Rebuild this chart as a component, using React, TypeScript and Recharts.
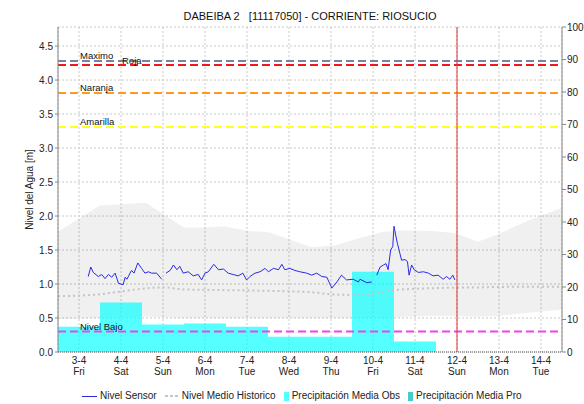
import React from 'react';
import {
   ComposedChart,
   Area,
   Line,
   XAxis,
   YAxis,
   CartesianGrid,
   ReferenceLine,
} from 'recharts';

const FONT = '"Liberation Sans", Arial, Helvetica, sans-serif';

// x axis: days of April
const tickDays = [3, 4, 5, 6, 7, 8, 9, 10, 11, 12, 13, 14];
const dayLabels = ['3-4', '4-4', '5-4', '6-4', '7-4', '8-4', '9-4', '10-4', '11-4', '12-4', '13-4', '14-4'];
const weekdayLabels = ['Fri', 'Sat', 'Sun', 'Mon', 'Tue', 'Wed', 'Thu', 'Fri', 'Sat', 'Sun', 'Mon', 'Tue'];

const levelTicks = [0, 0.5, 1, 1.5, 2, 2.5, 3, 3.5, 4, 4.5];
const rainTicks = [0, 10, 20, 30, 40, 50, 60, 70, 80, 90, 100];

// sensor level [m] (null = gap)
const sensorDays = [
   3.22, 3.28, 3.34, 3.46, 3.54, 3.62, 3.7, 3.78, 3.86, 3.94, 4.05, 4.1, 4.14, 4.25, 4.31, 4.4, 4.49,
   4.57, 4.65, 4.73, 4.85, 4.97, 5.02, 5.07, 5.17, 5.25, 5.33, 5.4, 5.48, 5.6, 5.72, 5.84, 5.92, 6.0,
   6.08, 6.21, 6.32, 6.44, 6.55, 6.67, 6.79, 6.9, 6.99, 7.07, 7.19, 7.31, 7.43, 7.51, 7.63, 7.75, 7.83,
   7.9, 8.02, 8.14, 8.26, 8.42, 8.54, 8.66, 8.78, 8.9, 9.02, 9.14, 9.25, 9.37, 9.53, 9.65, 9.69, 9.85,
   9.97, 10.02, 10.09, 10.17, 10.25, 10.31, 10.36, 10.42, 10.47, 10.5, 10.53, 10.58, 10.64, 10.68,
   10.76, 10.82, 10.86, 10.92, 10.98, 11.08, 11.2, 11.32, 11.43, 11.55, 11.67, 11.75, 11.83, 11.9, 11.95,
];
const sensorLevel = [
   1.11, 1.25, 1.17, 1.11, 1.14, 1.08, 1.14, 1.1, 1.16, 1.01, 0.99, 1.1, 1.07, 1.2, 1.16, 1.31, 1.23,
   1.16, 1.18, 1.16, 1.16, 1.07, null, 1.16, 1.2, 1.28, 1.21, 1.26, 1.16, 1.18, 1.12, 1.14, 1.06, 1.16,
   1.18, 1.29, 1.21, 1.22, 1.16, 1.14, 1.12, 1.16, 1.06, 1.11, 1.16, 1.18, 1.23, 1.18, 1.23, 1.21, 1.29,
   1.21, 1.23, 1.2, 1.18, 1.16, 1.13, 1.16, 1.11, 1.1, 0.94, 1.03, 1.13, 1.06, 1.07, 1.03, 1.07, 1.02,
   1.03, null, 1.13, 1.25, 1.28, 1.3, 1.21, 1.5, 1.55, 1.85, 1.75, 1.6, 1.45, 1.35,
   1.36, 1.33, 1.13, 1.28, 1.21, 1.17, 1.18, 1.16, 1.12, 1.13, 1.07, 1.11, 1.07, 1.13, 1.06,
];

// historic mean level [m]
const histDays = [2.5, 3.5, 4.0, 4.5, 5.0, 5.5, 6.5, 7.5, 8.5, 9.0, 9.5, 10.0, 10.5, 11.5, 12.5, 13.5, 14.5];
const histLevel = [0.82, 0.85, 0.89, 0.93, 0.95, 0.92, 0.91, 0.9, 0.88, 0.85, 0.84, 0.86, 0.91, 0.94, 0.95, 0.96, 0.96];

// historic range band [m]
const bandDays = [2.5, 3.48, 4.45, 4.6, 5.5, 6.0, 6.45, 7.05, 7.52, 8.0, 8.55, 9.1, 9.7, 10.25, 10.8, 11.4, 11.95, 12.5, 13.0, 13.75, 14.5];
const bandHigh = [1.77, 2.15, 2.19, 2.19, 1.83, 1.83, 1.85, 1.78, 1.76, 1.66, 1.54, 1.57, 1.68, 1.77, 1.79, 1.78, 1.75, 1.62, 1.74, 1.95, 2.12];
const bandLow = [0.48, 0.5, 0.52, 0.52, 0.5, 0.5, 0.5, 0.5, 0.5, 0.5, 0.5, 0.5, 0.5, 0.5, 0.52, 0.53, 0.53, 0.52, 0.53, 0.58, 0.62];

// daily precipitation (right axis)
const precipDays = [3, 4, 5, 6, 7, 8, 9, 10, 11];
const precipObs = [7.8, 15.2, 8.5, 8.8, 7.8, 4.7, 4.7, 24.7, 3.2];

// alert thresholds [m]
const thresholdNames = ['Maximo', 'Roja', 'Naranja', 'Amarilla', 'Nivel Bajo'];
const thresholdValues = [4.28, 4.22, 3.81, 3.31, 0.3];
const thresholdColors = ['#7383A8', '#F01818', '#FF9A1E', '#FFFF22', '#EE44EE'];
const thresholdLabelX = [22, 64, 22, 22, 22];
const thresholdLabelY = [-2, -1, -2, -2, -2];

const sensorData = sensorDays.map((d, i) => ({ day: d, nivel: sensorLevel[i] }));
const histData = histDays.map((d, i) => ({ day: d, medio: histLevel[i] }));
const bandData = bandDays.map((d, i) => ({ day: d, rango: [bandLow[i], bandHigh[i]] }));
const precipData = [
   ...precipDays.map((d, i) => ({ day: d - 0.5, obs: precipObs[i] })),
   { day: precipDays[precipDays.length - 1] + 0.5, obs: 0 },
];

const DayTick = (props: any) => {
   const { x, y, payload } = props;
   const i = tickDays.indexOf(payload.value);
   return (
      <text x={x} y={y} textAnchor="middle" fontSize={10} fill="#222" fontFamily={FONT}>
         <tspan x={x} dy={12}>{dayLabels[i]}</tspan>
         <tspan x={x} dy={11}>{weekdayLabels[i]}</tspan>
      </text>
   );
};

const makeLabel = (text: string, dx: number, dy: number) => (props: any) => {
   const vb = props.viewBox || { x: 0, y: 0 };
   return (
      <text x={vb.x + dx} y={vb.y + dy} fontSize={9.5} fill="#111" fontFamily={FONT}>
         {text}
      </text>
   );
};

const legendText: React.CSSProperties = { marginLeft: 3, marginRight: 8 };

export default function App() {
   return (
      <div
         style={{
            position: 'absolute',
            top: 0,
            left: 0,
            width: 584,
            height: 404,
            background: '#fff',
            fontFamily: FONT,
         }}
      >
         <div
            style={{
               position: 'absolute',
               top: 10,
               left: 58,
               width: 504,
               textAlign: 'center',
               fontSize: 11,
               lineHeight: '13px',
               color: '#111',
               whiteSpace: 'pre',
            }}
         >
            {'DABEIBA 2   [11117050] - CORRIENTE: RIOSUCIO'}
         </div>
         <ComposedChart width={584} height={404} margin={{ top: 27, right: 0, left: 0, bottom: 22 }}>
            <CartesianGrid yAxisId="left" stroke="#C8C8C8" strokeDasharray="2 2" />
            <XAxis
               dataKey="day"
               type="number"
               domain={[2.5, 14.5]}
               ticks={tickDays}
               allowDataOverflow
               tick={<DayTick />}
               tickLine={false}
               tickSize={0}
               tickMargin={0}
               height={30}
               axisLine={{ stroke: '#555', strokeDasharray: '1 1' }}
            />
            <YAxis
               yAxisId="left"
               width={58}
               domain={[0, 4.78]}
               ticks={levelTicks}
               allowDataOverflow
               tickFormatter={(v: number) => v.toFixed(1)}
               tick={{ fontSize: 10, fill: '#222', fontFamily: FONT }}
               tickSize={3}
               tickMargin={2}
               axisLine={{ stroke: '#888' }}
               tickLine={{ stroke: '#888' }}
               label={{
                  value: 'Nivel del Agua [m]',
                  angle: -90,
                  position: 'insideLeft',
                  offset: 29,
                  style: { textAnchor: 'middle', fontSize: 10, fill: '#222', fontFamily: FONT },
               }}
            />
            <YAxis
               yAxisId="right"
               orientation="right"
               width={22}
               domain={[0, 100]}
               ticks={rainTicks}
               tick={{ fontSize: 10, fill: '#222', fontFamily: FONT }}
               tickSize={4}
               tickMargin={1}
               axisLine={{ stroke: '#888' }}
               tickLine={{ stroke: '#888' }}
            />
            <Area
               yAxisId="left"
               data={bandData}
               dataKey="rango"
               type="linear"
               stroke="none"
               fill="#000"
               fillOpacity={0.06}
               isAnimationActive={false}
               name="Rango Historico"
            />
            <Area
               yAxisId="right"
               data={precipData}
               dataKey="obs"
               type="stepAfter"
               stroke="none"
               fill="#00FFFF"
               fillOpacity={0.67}
               isAnimationActive={false}
               name="Precipitación Media Obs"
            />
            <Line
               yAxisId="left"
               data={histData}
               dataKey="medio"
               type="monotone"
               stroke="#C4C4C4"
               strokeWidth={2}
               strokeDasharray="2 3"
               dot={false}
               isAnimationActive={false}
               name="Nivel Medio Historico"
            />
            {thresholdValues.map((v, i) => (
               <ReferenceLine
                  key={thresholdNames[i]}
                  yAxisId="left"
                  y={v}
                  stroke={thresholdColors[i]}
                  strokeWidth={2}
                  strokeDasharray="8 4"
                  label={makeLabel(thresholdNames[i], thresholdLabelX[i], thresholdLabelY[i])}
               />
            ))}
            <ReferenceLine yAxisId="left" x={12} stroke="#E53030" strokeWidth={1} />
            <Line
               yAxisId="left"
               data={sensorData}
               dataKey="nivel"
               type="linear"
               stroke="#2A2AE6"
               strokeWidth={1}
               dot={false}
               isAnimationActive={false}
               name="Nivel Sensor"
            />
         </ComposedChart>
         <div
            style={{
               position: 'absolute',
               top: 390,
               left: 82,
               display: 'flex',
               alignItems: 'center',
               fontSize: 10,
               lineHeight: '12px',
               color: '#222',
               whiteSpace: 'nowrap',
            }}
         >
            <span style={{ width: 15, borderTop: '1px solid #2A2AE6' }} />
            <span style={legendText}>Nivel Sensor</span>
            <svg width={14} height={2}>
               <line x1={0} y1={1} x2={14} y2={1} stroke="#C4C4C4" strokeWidth={2} strokeDasharray="3 2" />
            </svg>
            <span style={legendText}>Nivel Medio Historico</span>
            <span style={{ width: 5, height: 9, background: '#55FFFF' }} />
            <span style={legendText}>Precipitación Media Obs</span>
            <span style={{ width: 5, height: 9, background: '#44CCCC' }} />
            <span style={legendText}>Precipitación Media Pro</span>
         </div>
      </div>
   );
}
